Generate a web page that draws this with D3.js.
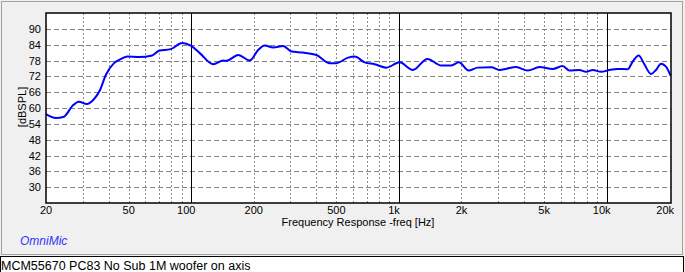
<!DOCTYPE html>
<html>
<head>
<meta charset="utf-8">
<script src="https://cdn.jsdelivr.net/npm/d3@7"></script>
<style>
  body { margin: 0; background: #f0f0f0; overflow: hidden; }
  text { font-family: 'Liberation Sans', Arial, sans-serif; }
</style>
</head>
<body>
<div id="chart"></div>
<script>
// frequency response, [Hz]
const freqs = [20, 22.3, 24.4, 26.8, 28.8, 31.4, 34, 36.4, 38.8, 42.5, 46, 49.2, 56.1, 64.9, 70, 79.6, 90.6,
  100, 110, 127.6, 142.6, 148, 168.4, 191.6, 210, 226, 248, 277, 304, 345, 401, 464, 500, 569,
  612, 684, 764, 869, 1007, 1168, 1370, 1600, 1786, 1945, 2163, 2398, 2781, 3050, 3300, 3667,
  4170, 4747, 5500, 6140, 6620, 7390, 7960, 8570, 9400, 10300, 11300, 12620, 13340, 14260,
  15180, 16340, 17260, 18270, 19300, 20300]
// SPL [dB]
const spl = [57.7, 56.2, 56.7, 60.8, 62.4, 61.5, 63.3, 66.8, 72.5, 77.0, 78.6, 79.5, 79.3, 79.9, 81.7, 82.3, 84.6,
  83.5, 80.8, 76.6, 78.0, 77.9, 80.1, 78.0, 82.0, 83.7, 82.9, 83.5, 81.4, 81.0, 80.1, 77.0, 77.0, 79.1,
  79.5, 77.3, 76.6, 75.3, 77.3, 74.4, 78.6, 76.1, 76.1, 77.3, 74.2, 75.3, 75.4, 74.4, 74.9, 75.5,
  74.2, 75.5, 74.8, 75.9, 74.2, 74.4, 73.7, 74.4, 73.7, 74.4, 74.8, 74.7, 77.6, 79.9,
  76.6, 72.9, 74.4, 76.8, 75.7, 72.3]

const yTicks = [30, 36, 42, 48, 54, 60, 66, 72, 78, 84, 90]
const xTickLabels = [[20, '20'], [50, '50'], [100, '100'], [200, '200'], [500, '500'],
  [1000, '1k'], [2000, '2k'], [5000, '5k'], [10000, '10k'], [20000, '20k']]
const decades = [100, 1000, 10000]

const title = 'Frequency Response -freq [Hz]'
const yTitle = '[dBSPL]'
const caption = 'MCM55670 PC83 No Sub 1M woofer on axis'

const svg = d3
  .select('#chart')
  .append('svg')
  .attr('width', 685)
  .attr('height', 272)

// panel frame
svg
  .append('rect')
  .attr('x', 1.5)
  .attr('y', 1.5)
  .attr('width', 681)
  .attr('height', 253)
  .attr('fill', '#f0f0f0')
  .attr('stroke', '#a0a0a0')

const plot = { left: 46, top: 13, right: 671, bottom: 203 }

const x = d3.scaleLog().domain([20, 20400]).range([plot.left, plot.right])
const y = d3.scaleLinear().domain([24, 96]).range([plot.bottom, plot.top])

svg
  .append('rect')
  .attr('x', plot.left)
  .attr('y', plot.top)
  .attr('width', plot.right - plot.left)
  .attr('height', plot.bottom - plot.top)
  .attr('fill', 'white')

// minor vertical grid
const minor = []
;[10, 100, 1000].forEach(function(dec) {
  for (let k = 2; k <= 9; k++) {
    const f = dec * k
    if (f > 20 && f < 10000) minor.push(f)
  }
})
svg
  .selectAll('.vgrid')
  .data(minor)
  .enter()
  .append('line')
  .attr('class', 'vgrid')
  .attr('x1', d => Math.round(x(d)) + 0.5)
  .attr('x2', d => Math.round(x(d)) + 0.5)
  .attr('y1', plot.top)
  .attr('y2', plot.bottom)
  .attr('stroke', '#8c8c8c')
  .attr('stroke-dasharray', '2,2')

svg
  .selectAll('.hgrid')
  .data(yTicks)
  .enter()
  .append('line')
  .attr('class', 'hgrid')
  .attr('x1', plot.left)
  .attr('x2', plot.right)
  .attr('y1', d => Math.round(y(d)) + 0.5)
  .attr('y2', d => Math.round(y(d)) + 0.5)
  .attr('stroke', '#808080')
  .attr('stroke-dasharray', '5,3')

svg
  .selectAll('.dec')
  .data(decades)
  .enter()
  .append('line')
  .attr('class', 'dec')
  .attr('x1', d => Math.round(x(d)) + 0.5)
  .attr('x2', d => Math.round(x(d)) + 0.5)
  .attr('y1', plot.top)
  .attr('y2', plot.bottom)
  .attr('stroke', 'black')

const line = d3
  .line()
  .x((d, i) => x(freqs[i]))
  .y(d => y(d))
  .curve(d3.curveMonotoneX)

svg
  .append('path')
  .datum(spl)
  .attr('d', line)
  .attr('fill', 'none')
  .attr('stroke', '#0000ff')
  .attr('stroke-width', 2)

svg
  .append('rect')
  .attr('x', plot.left)
  .attr('y', plot.top)
  .attr('width', plot.right - plot.left)
  .attr('height', plot.bottom - plot.top)
  .attr('fill', 'none')
  .attr('stroke', 'black')
  .attr('stroke-width', 1.5)

// y labels
svg
  .selectAll('.ylab')
  .data(yTicks)
  .enter()
  .append('text')
  .attr('class', 'ylab')
  .attr('x', 41)
  .attr('y', d => y(d) + 4)
  .attr('text-anchor', 'end')
  .style('font-size', '11px')
  .text(d => d)

// x labels
svg
  .selectAll('.xlab')
  .data(xTickLabels)
  .enter()
  .append('text')
  .attr('class', 'xlab')
  .attr('x', function(d) {
    let shift = 0
    if (decades.indexOf(d[0]) >= 0) shift = -5
    if (d[0] === 20000) shift = -4
    return x(d[0]) + shift
  })
  .attr('y', 214)
  .attr('text-anchor', 'middle')
  .style('font-size', '11px')
  .text(d => d[1])

svg
  .append('text')
  .attr('x', 358)
  .attr('y', 226)
  .attr('text-anchor', 'middle')
  .style('font-size', '11px')
  .text(title)

svg
  .append('text')
  .attr('transform', 'translate(26,107) rotate(-90)')
  .attr('text-anchor', 'middle')
  .style('font-size', '11px')
  .text(yTitle)

svg
  .append('text')
  .attr('x', 20)
  .attr('y', 245)
  .style('font-size', '12px')
  .style('font-style', 'italic')
  .attr('fill', '#3333ff')
  .text('OmniMic')

// caption box
svg
  .append('rect')
  .attr('x', 0.5)
  .attr('y', 256.5)
  .attr('width', 683)
  .attr('height', 20)
  .attr('fill', 'white')
  .attr('stroke', 'black')

svg
  .append('text')
  .attr('x', 1)
  .attr('y', 269.5)
  .style('font-size', '12.5px')
  .text(caption)
</script>
</body>
</html>
